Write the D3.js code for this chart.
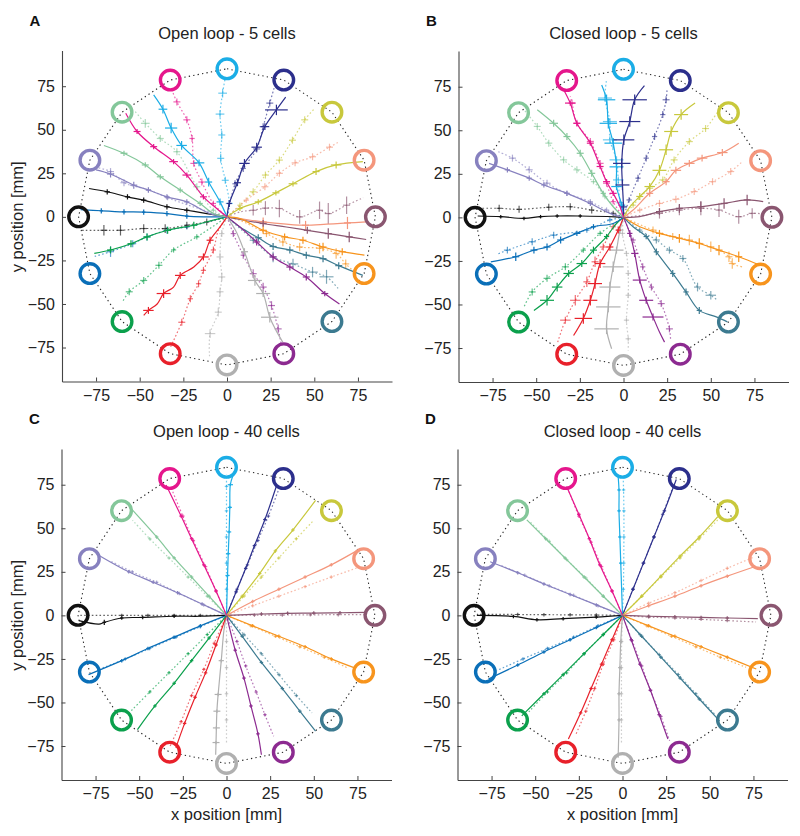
<!DOCTYPE html>
<html><head><meta charset="utf-8">
<script src="https://cdn.jsdelivr.net/npm/d3@7"></script>
<style>body{margin:0;background:#fff}svg{display:block;font-family:"Liberation Sans",Arial,sans-serif}</style>
</head><body><svg id="c" width="800" height="836"></svg>
<script>
// ---------- DATA ----------
const targetColors = ["#1badE6","#2c2f8c","#c8c83c","#f4967c","#8a5670","#f7941d","#3c7a90","#8c2a90","#b0b0b0","#e8202a","#0ba04c","#0a6fb8","#111111","#8781bf","#84c79a","#e5168c"];
const targetX = [0,32.53,60.1,78.53,85,78.53,60.1,32.53,0,-32.53,-60.1,-78.53,-85,-78.53,-60.1,-32.53];
const targetY = [85,78.53,60.1,32.53,0,-32.53,-60.1,-78.53,-85,-78.53,-60.1,-32.53,0,32.53,60.1,78.53];
const xTicks = [-75,-50,-25,0,25,50,75];
const yTicks = [-75,-50,-25,0,25,50,75];
const panelTitles = ["Open loop - 5 cells","Closed loop - 5 cells","Open loop - 40 cells","Closed loop - 40 cells"];
const panelLetters = ["A","B","C","D"];

// each trajectory: points [x, y, xErr, yErr] (starting from the centre)
const openSolid5 = [
 [[-4,8.6,2,2],[-10.5,20,2,2.5],[-16,31,3,2],[-26,41,3,2.5],[-32,51,3.5,3],[-36.7,61.8,2.5,2.5],[-42,70,0,0]],
 [[1.3,7.7,1.5,2],[6,19.6,2,2],[10,30.7,3,2.5],[17,40,3,2.5],[21.7,51.8,2.5,2],[28.3,61.4,6.5,3],[33.6,68.7,0,0]],
 [[7.4,4.8,1.5,1.5],[17.9,8.6,2,1.5],[28,13.8,2,1.5],[37.8,19,2.5,1.5],[51,26,2,2],[62.5,29.8,3,2],[77.8,31.7,0,0]],
 [[7.4,-1,0,0],[20.7,-2.9,2,2.5],[34,-4.2,0,0],[45,-4.8,2,2.5],[57,-4.2,0,0],[69,-3.5,2,3.5],[79.7,-2.9,0,0]],
 [[7.4,-1.5,0,0],[20.7,-3.8,2,2],[34,-5.8,0,0],[46,-7.7,2,2],[58,-9.6,2,3],[70,-11.5,2,3],[79.7,-13,0,0]],
 [[7.4,-1,0,0],[20.7,-7.7,2,2],[33,-11.5,2,2],[43.5,-13.4,2,2],[55,-17.3,2,2.5],[66,-20,2,2],[78.7,-22,0,0]],
 [[7.4,-5.8,0,0],[17.9,-12,2,2],[26.4,-17,2,2],[36,-19,2,2],[45.4,-22,2,2],[55,-24,2,2],[64,-28,2,2],[77.8,-33.6,0,0]],
 [[7.4,-5.8,0,0],[17,-14.4,2,2],[26.4,-23,2,2],[36,-28.8,2,2],[45.4,-34.5,2,2],[56,-44,2,1.5],[64.4,-50,0,0]],
 [[5,-8,0,0],[10,-20,2,2],[16,-36.5,4,3],[20.7,-44,4,2],[24.5,-57.6,5,3],[28,-65,0,0],[32,-72,0,0]],
 [[-4,-5.8,0,0],[-9.7,-13.4,2,2],[-13.5,-23,3,2],[-19,-28.8,0,0],[-26.8,-33.6,3,2],[-30.6,-40.3,0,0],[-36.3,-44,4,2.5],[-40,-50,0,0],[-45,-53.7,3,2],[-47.7,-56.6,0,0]],
 [[-7.8,-1.9,0,0],[-19,-4.8,2,2],[-34,-7.7,2,2],[-45.8,-11.5,2,2],[-55,-15.4,2,2],[-66.7,-19,2,2],[-76,-21,0,0]],
 [[-11.6,0,0,0],[-23,0.4,1,1.5],[-34.4,1.9,1,1.5],[-47.7,2.7,1,1.5],[-59,2.9,1,1.5],[-72,3.5,1,1.5],[-83.8,4.2,0,0]],
 [[-11.6,1.9,0,0],[-23,3.8,1.5,1.5],[-34.4,5.8,1.5,1.5],[-47.7,9.6,1.5,1.5],[-57,11.5,1.5,1.5],[-68.6,14.4,1.5,1.5],[-79,16.3,0,0]],
 [[-9.7,1.9,0,0],[-23,8.6,1.5,1.5],[-34.4,11.5,1.5,1.5],[-45,15.4,1.5,1.5],[-53.4,18.2,2,2],[-66.7,24.6,2,2],[-75,27,0,0]],
 [[-7.8,1.9,0,0],[-15.4,7.7,1.5,1.5],[-26.8,15.4,1.5,1.5],[-38.2,23,2,1.5],[-46.8,29.8,2,1.5],[-59,36.5,2,1.5],[-70.5,41,0,0]],
 [[-5.9,4.8,0,0],[-13.5,11.5,2,1.5],[-23,24,2.5,1.5],[-30.6,31.7,2.5,1.5],[-42,40.3,2,1.5],[-51.5,49,2,1.5],[-58,59.5,0,0]]
];
const openDotted5 = [
 [[1.3,7.7,2,2],[-1,21,2,2],[-3.6,33.6,2,2.5],[-3,47,2,2.5],[-4,59,2.5,2],[-2.5,71,2.5,2.5],[-1,80,0,0]],
 [[4.6,19,1.5,2],[9.3,27.8,1.5,2],[17,39,2,2],[20.7,51.8,2,2],[24.5,65.3,2,2],[27,74,0,0]],
 [[7.4,6.7,1.5,1.5],[15,14.4,2,2],[22,24,2,2],[30,32.6,2,2],[37.5,44,2,2],[44.5,55.7,2,2],[50,62,0,0]],
 [[11,9.6,1.5,1.5],[21.7,17.3,2,2],[30,25,2,2],[39,31,2,2],[49,34.5,2,2],[58.7,40,2,2],[64,43,0,0]],
 [[8,3,0,0],[15,3.8,2,3],[22,5,2,4],[30,4.8,2,5],[41.6,0,2,4],[53,3.8,2,5],[58,1.9,2,6],[68.5,6.7,2,5],[78,11,0,0]],
 [[7.4,-2,0,0],[22.6,-9.6,2,2],[32,-14.4,2,2.5],[41.6,-17.3,2,2.5],[53,-18,2,3],[62.5,-21,2,3],[68,-27,2,2.5],[72,-30.7,0,0]],
 [[15,-13.4,2,2],[26.4,-23,2,3],[37.8,-27,3,3],[49,-31.7,3,3],[57,-34.4,4,4],[64.4,-42,0,0]],
 [[3.6,-9.6,1.5,2],[9.3,-22,1.5,2],[15,-32.6,2,2.5],[20.7,-40.3,2,2.5],[25.5,-50.9,2,2.5],[29.3,-64.3,2,2.5],[31,-73,0,0]],
 [[-3,-9.6,1.5,2],[-4,-23,2,2.5],[-3,-34.5,2,2.5],[-4,-43,2,2.5],[-5,-54.7,2,2.5],[-9.7,-67,3,2.5],[-10,-80,0,0]],
 [[-5,-8,0,0],[-7.8,-19,1.5,2],[-13.5,-30.7,1.5,2],[-16.3,-38.4,1.5,2],[-21,-47,1.5,2],[-25.9,-60.5,2,2],[-32.5,-75,0,0]],
 [[-17.3,-11.5,1.5,1.5],[-30.6,-19,1.5,1.5],[-39,-27.8,2,2],[-47.7,-36.5,2,2],[-56,-43,2,2],[-60,-49,0,0]],
 [[-23,-5.8,1.5,1.5],[-34.4,-7.7,2,2],[-45.8,-11.5,2,2],[-54,-15.4,2,2],[-66.7,-20,2,3],[-77,-23,0,0]],
 [[-11.6,-2.9,1.5,2],[-23,-4.8,1.5,2],[-35.4,-6.7,2,2.5],[-47.7,-6.7,2,2.5],[-61,-7.7,2,3],[-70.5,-7.7,2,3],[-83,-7.7,0,0]],
 [[-20,6,0,0],[-34,11,1.5,1.5],[-45,15.5,1.5,1.5],[-59,19.6,2,2],[-66.7,26,2,2],[-75,28.4,0,0]],
 [[-7.8,3.8,1.5,1.5],[-17.3,17.3,2,2],[-28.7,37.4,2,2],[-38.2,45,2,2],[-46.8,53.7,2.5,2.5],[-53.4,61.4,0,0]],
 [[-7.8,7.7,1.5,1.5],[-14.4,20,2,2],[-19,30.7,2,2],[-20,45,1.5,2],[-23,55.7,2,2],[-28.7,66,2,2],[-32,74,0,0]]
];
const closedSolid5 = [
 [[-1,7,2,2],[-4,17.7,3,2],[-4,29,4,3],[-5.9,42.6,5,3],[-8.7,54,5,3],[-9.7,67.5,5,3],[-12.5,76,0,0]],
 [[0,6,2,2],[-0.6,18.6,4,3],[-1,31,5,3],[0.2,44.5,6,3],[3.6,55,6,3],[6.4,67.5,7,3],[12,75.6,0,0]],
 [[3.6,6,0,0],[9.3,12,2,2],[15,17.7,3,2],[20.6,27,4,3],[24.4,38.8,4,3],[27.3,49.3,4,3],[33,59,4,3],[41,65.6,0,0]],
 [[5.5,4.2,0,0],[15,13.8,2,2],[24.4,20.5,2,2],[30,27,3,2],[37.7,31,3,2],[45,34,3,2],[56.6,37.2,3,2],[66,42.6,0,0]],
 [[9.3,0.4,0,0],[20.6,3.3,2,2],[32,5.2,2,2.5],[44.3,6.1,2,3],[57.6,8,2,3],[70.8,10,2,3],[80,9,0,0]],
 [[9.3,-5.4,0,0],[20.6,-9.2,2,2],[32,-12,2,2.5],[43.4,-15,2,3],[54.7,-18.8,2,3],[66,-22.6,2,3],[78,-27.4,0,0]],
 [[5.5,-5.4,0,0],[13,-11,1.5,1.5],[18.8,-19.8,1.5,2],[28.2,-32.2,1.5,2],[35.8,-42.8,1.5,2],[43.4,-53.4,1.5,2],[52.8,-57,0,0],[59.5,-60,0,0]],
 [[3.6,-9.2,1.5,2],[6.4,-20.7,2,2],[9.3,-36,4,2],[13,-47.6,4,2],[16.9,-57.2,6,2],[20.6,-65.8,0,0],[23.5,-71.6,0,0]],
 [[-2,-7.3,2,2],[-4,-18.8,4,2],[-5.9,-28.4,6,3],[-7.8,-40,6,3],[-8.7,-51.4,7,3],[-9.7,-64,7,3],[-6.8,-75.4,0,0]],
 [[-3,-7.3,1.5,2],[-7.8,-17,2,2],[-13.4,-26.5,3,2.5],[-16.3,-38,4,3],[-19,-47.6,4,3],[-23,-58,5,3],[-28.6,-67.8,0,0]],
 [[-4,-3.5,0,0],[-9.7,-11,1.5,1.5],[-17.2,-18.8,2,2],[-23.9,-26.5,3,2],[-31.4,-32.2,3,2],[-38,-40,3,2.5],[-43.8,-47.6,4,3],[-51.3,-53.4,0,0]],
 [[-5.9,-3.5,0,0],[-17.2,-5.4,1.5,1.5],[-26.7,-9.2,2,1.5],[-36,-13,2,2],[-43.8,-17,2,2],[-51.3,-18.8,2,2],[-61.7,-22.6,2,2.5],[-76,-25.5,0,0]],
 [[-5,0.3,0,0],[-24.8,0.8,1,1],[-38,0.8,1,1],[-47.5,0.4,1,1],[-57,-0.6,1,1],[-70.3,0.4,1,1],[-83.5,0.8,0,0]],
 [[-7.8,2.3,0,0],[-19,8,1.5,1.5],[-32.4,13.8,1.5,1.5],[-45.6,18.6,1.5,1.5],[-54,22.5,1.5,1.5],[-66.5,27.3,1.5,1.5],[-77,31,0,0]],
 [[-5.9,6.1,0,0],[-11.6,13.8,1.5,1.5],[-18.2,25.3,2,2],[-24.8,36.8,2,2],[-32.4,46.4,2,2],[-40,54,2.5,2],[-49.4,61.8,0,0]],
 [[-2,6.1,0,0],[-5.9,13.8,2,1.5],[-9.7,20.5,2,1.5],[-13.4,29.2,2,1.5],[-19,42.6,2,1.5],[-26.7,54,2,1.5],[-30.5,65.6,3,1.5],[-34.3,73.3,0,0]]
];
const closedDotted5 = [
 [[-2,8.4,2,2],[-3,21.5,3,2],[-4,33,4,2],[-7.8,44.5,4,2],[-7.8,55,4,2],[-10.6,68.5,4,2],[-9.7,79,0,0]],
 [[3.2,10,1.5,1.5],[8.3,22.5,1.5,2],[13,34,1.5,2],[17.8,46.4,1.5,2],[22.5,59,1.5,2],[24.4,67.5,2,2],[25,74,0,0]],
 [[5.5,7,1.5,1.5],[15,16.7,2,2],[22.5,21.5,2,2],[29,33,2,2],[37.7,43.5,2,2],[47,51,2,2],[54.7,61.8,0,0]],
 [[9.3,4.2,1.5,1.5],[20.6,8,2,2],[30,10.4,2,2],[40.5,14.8,2,2],[51,20.5,2,2],[61.4,26.3,2,2],[68,32,0,0]],
 [[9,1,0,0],[20.6,2.3,2,3],[32,4.2,2,3],[44.3,5.2,2,4],[54.7,4.2,2,4],[66,0.4,2,4],[73.7,2.3,2,3],[80,2,0,0]],
 [[16.9,-7.3,2,2],[28.2,-11,2,2],[37.7,-13,2,3],[50,-16.9,2,3],[60.4,-22.6,2,3],[62.3,-26.5,2,3],[68,-28.4,0,0]],
 [[9.3,-7.3,1.5,1.5],[18.8,-13,2,2],[26.3,-18.8,2,2],[34,-23.6,2,2],[42.4,-40,2,2.5],[50,-44.7,3,2.5],[53.8,-47.6,0,0]],
 [[5.5,-13,1.5,1.5],[11,-28.4,1.5,2],[16,-40,1.5,2],[21.6,-49.5,2,2],[26.3,-64,2,2],[27,-71,0,0]],
 [[-0.6,-9.2,1.5,1.5],[1.7,-20.7,1.5,1.5],[2.7,-32.2,1.5,1.5],[2.7,-44.7,1.5,1.5],[1.7,-59,1.5,1.5],[2.7,-69.7,1.5,1.5],[2.7,-76.4,0,0]],
 [[-5.9,-5.4,1.5,1.5],[-11.6,-17,2,2],[-16.3,-25.5,2,3],[-21,-37,2,3],[-27.6,-47.6,3,3],[-33.3,-59,3,2],[-38,-72.6,0,0]],
 [[-13.4,-9.2,1.5,1.5],[-23,-18.8,1.5,1.5],[-33.3,-28.4,2,2],[-43.8,-35,2,2],[-52.3,-42.8,2,2],[-57,-51.4,0,0]],
 [[-7.8,-1.5,1.5,1.5],[-21,-7.3,1.5,1.5],[-40,-10.2,2,2],[-52.3,-14,2,2],[-66.5,-18.8,2,2],[-72,-21,0,0]],
 [[-5.9,2.3,1.5,1.5],[-18.2,4.2,1.5,2],[-30.5,6.1,1.5,2],[-42.8,5.8,1.5,2],[-59.8,4.6,1.5,2],[-71.2,5.2,1.5,2],[-83.5,5.2,0,0]],
 [[-9.7,4.2,1.5,1.5],[-19,9,1.5,1.5],[-32.4,13.8,1.5,1.5],[-43.8,19.6,2,2],[-54,27.3,2,2],[-63.6,34,2,2],[-72,37.8,0,0]],
 [[-10.6,11.9,1.5,1.5],[-17.2,20.5,1.5,1.5],[-26.7,27.3,2,2],[-34.3,33,2,2],[-42.8,42.6,2,2],[-49.4,52.2,2,2],[-57,61.8,0,0]],
 [[-5.9,9,1.5,1.5],[-9.7,19.6,2,2],[-13.4,31,2,2],[-19,43.6,2,2],[-26.7,54,2,2],[-29.5,65.6,2,2],[-30.5,69.5,0,0]]
];
const openSolid40 = [
 [[0.6,22.9,1.2,0.8],[1,35.4,1.2,0.8],[1.5,47.9,1.2,0.8],[1.9,62,1.2,0.8],[2.2,75,1.5,0.8],[3.8,80.6,0,0]],
 [[5.5,13.5,1,1],[11,27,1,1],[16,40,1,1],[22,55,1,1],[28.5,74,0,0]],
 [[9,11,1,1],[19,24,1,1],[28,37,1,1],[38,49,1,1],[51,66,0,0]],
 [[15,8,1,1],[30,15,1,1],[45,22,1,1],[60,29,1,1],[75,37.3,0,0]],
 [[20,0.8,1,1],[35,1.2,1,1],[50,1.3,1,1],[65,1.5,1,1],[80,1.7,0,0]],
 [[15,-6,1,1],[30,-12,1,1],[45,-18,1,1],[60,-25,1,1],[73,-30,0,0]],
 [[9,-12,1,1],[20,-27,1,1],[32,-42,1,1],[42,-55,1,1],[51,-66.5,0,0]],
 [[5,-20,1,1],[10,-36,1,1],[14,-52,1,1],[18,-68,1,1],[20,-80,0,0]],
 [[-1.5,-8.8,0,0],[-3,-26,1.5,1],[-4.8,-45.4,2,1],[-5.5,-55,2,1],[-5.8,-64.6,2,1],[-6,-73,2,1],[-6.2,-80,0,0]],
 [[-6,-17,1,1],[-12,-33,1,1],[-18,-47,1,1],[-24,-62,1,1],[-29,-76,0,0]],
 [[-10,-13,1,1],[-20,-26,1,1],[-30,-39,1,1],[-41,-52,1,1],[-51,-65.6,0,0]],
 [[-15,-6,1,1],[-30,-12.5,1,1],[-45,-19,1,1],[-60,-26,1,1],[-79,-34,0,0]],
 [[-15,-0.5,0,0],[-30,-0.5,1,1],[-48,-1.2,1,1],[-60,-1.5,1,1],[-70,-4,1,1.5],[-73,-5,0,0],[-84.6,-3,0,0]],
 [[-14,6.5,1,1],[-28,13,1,1],[-42,19,1,1],[-56,25,1,1],[-73,34.4,0,0]],
 [[-10,11,1,1],[-20,22,1,1],[-30,33,1,1],[-40,45,1,1],[-53.8,60.4,0,0]],
 [[-6,14,1,1],[-13,29,1,1],[-20,44,1,1],[-26,57,1,1],[-34.6,74.8,0,0]]
];
const openDotted40 = [
 [[0,15,1,0.8],[0,30,1,0.8],[0,45,1,0.8],[0,60,1,0.8],[0,74,1,0.8],[0,81,0,0]],
 [[6,15,1,1],[12,29,1,1],[18,43,1,1],[24,57,1,1],[29.8,72,0,0]],
 [[10,11,1,1],[20,22,1,1],[30,33,1,1],[40,44,1,1],[50,54.6,0,0]],
 [[15,5.5,1,1],[30,11,1,1],[45,16.5,1,1],[60,22,1,1],[76,27.7,0,0]],
 [[16,0.1,1,1],[32,0.2,1,1],[48,0.3,1,1],[64,0.4,1,1],[79,0.4,0,0]],
 [[14,-6,1,1],[28,-12,1,1],[42,-18,1,1],[56,-24,1,1],[69,-30,0,0]],
 [[10,-11,1,1],[20,-22,1,1],[30,-34,1,1],[40,-46,1,1],[49,-56,0,0]],
 [[6,-15,1,1],[11,-29,1,1],[17,-44,1,1],[22,-57,1,1],[27,-69.4,0,0]],
 [[0,-15,1,1],[0,-30,1,1],[0,-45,1,1],[0,-60,1,1],[0,-74,0,0]],
 [[-7,-16,1,1],[-13,-31,1,1],[-20,-46,1,1],[-26,-61,1,1],[-32.7,-76,0,0]],
 [[-11,-11,1,1],[-22,-22,1,1],[-33,-33,1,1],[-44,-44,1,1],[-54.8,-55,0,0]],
 [[-15,-6.5,1,1],[-29,-12.5,1,1],[-44,-19,1,1],[-58,-25,1,1],[-73,-31,0,0]],
 [[-15,0,1,1],[-30,0,1,1],[-45,0,1,1],[-60,0,1,1],[-84.6,0,0,0]],
 [[-13,6,1,1],[-27,12.5,1,1],[-40,19,1,1],[-54,25,1,1],[-67,31.5,0,0]],
 [[-11,11,1,1],[-22,22,1,1],[-33,33,1,1],[-44,44,1,1],[-53.8,54.6,0,0]],
 [[-6,14,1,1],[-12,28,1,1],[-19,43,1,1],[-25,57,1,1],[-30.8,71,0,0]]
];
const closedSolid40 = [
 [[-0.5,15,0,0],[-1,30,1,0.8],[-1.5,45,1,0.8],[-2,60,1,0.8],[-2,72,1,0.8],[-2.5,79.8,0,0]],
 [[6,15,1,1],[12,30,1,1],[18,45,1,1],[24,60,1,1],[30.8,78,0,0]],
 [[11,11,1,1],[22,22.5,1,1],[33,34,1,1],[44,45,1,1],[54.6,56.7,0,0]],
 [[15,5.5,1,1],[30,11,1,1],[45,17,1,1],[60,22.5,1,1],[75.6,27.9,0,0]],
 [[15,-0.5,1,1],[30,-0.8,1,1],[45,-1.2,1,1],[60,-1.5,1,1],[77.5,-1.9,0,0]],
 [[15,-6,1,1],[30,-12,1,1],[45,-18,1,1],[60,-24,1,1],[76.6,-30.8,0,0]],
 [[11,-12,1,1],[22,-24,1,1],[33,-36,1,1],[44,-48,1,1],[55.6,-60.6,0,0]],
 [[5,-14,1,1],[10,-28,1,1],[16,-43,1,1],[21,-57,1,1],[26,-71,0,0]],
 [[-1,-15,1,1],[-1.5,-30,1,1],[-2,-45,1,1],[-2,-60,1,1],[-2.5,-81.7,0,0]],
 [[-6,-14,1,1],[-12,-28,1,1],[-18,-42,1,1],[-24,-56,1,1],[-31,-71,0,0]],
 [[-11,-11,1,1],[-22,-22,1,1],[-34,-34,1,1],[-45,-45,1,1],[-57.7,-57.7,0,0]],
 [[-15,-7,1,1],[-30,-14,1,1],[-45,-21,1,1],[-60,-28.5,1,1],[-76.8,-36.5,0,0]],
 [[-15,-1,1,1],[-34,-1.9,1,1],[-49,-2.5,1,1],[-62.5,-0.6,1,1],[-83.4,0,0,0]],
 [[-15,6,1,1],[-30,12,1,1],[-45,18,1,1],[-60,24.5,1,1],[-75.8,30.8,0,0]],
 [[-11,11,1,1],[-22,22,1,1],[-33,33,1,1],[-44,44,1,1],[-54.8,54.8,0,0]],
 [[-6,14,1,1],[-13,29,1,1],[-19,44,1,1],[-25,58,1,1],[-32,74,0,0]]
];
const closedDotted40 = [
 [[0.5,15,1,0.8],[0.7,30,1,0.8],[0.8,45,1,0.8],[0.8,60,1,0.8],[0.6,72,1,0.8],[0.4,80,0,0]],
 [[6,15,1,1],[12,30,1,1],[18,45,1,1],[23,58,1,1],[29,74,0,0]],
 [[11,11,1,1],[22,22,1,1],[33,33,1,1],[44,44,1,1],[54.6,54.8,0,0]],
 [[15,7,1,1],[30,13,1,1],[45,20,1,1],[60,27,1,1],[75.6,33.6,0,0]],
 [[15,-1,1,1],[30,-1.5,1,1],[45,-2.3,1,1],[60,-3,1,1],[76.5,-3.8,0,0]],
 [[14,-6,1,1],[28,-12,1,1],[42,-18,1,1],[56,-24,1,1],[70.8,-29.8,0,0]],
 [[10,-11,1,1],[21,-22.5,1,1],[32,-34,1,1],[42,-45,1,1],[52.8,-56.7,0,0]],
 [[5.5,-14.5,1,1],[11,-29,1,1],[16,-43,1,1],[22,-58,1,1],[27,-72,0,0]],
 [[-0.5,-15,1,1],[-0.6,-30,1,1],[-0.6,-45,1,1],[-0.6,-60,1,1],[-0.6,-74,0,0]],
 [[-5,-14,1,1],[-11,-28,1,1],[-16,-42,1,1],[-21,-55,1,1],[-27,-69,0,0]],
 [[-11,-11,1,1],[-22,-22,1,1],[-32,-33,1,1],[-43,-44,1,1],[-54,-55.8,0,0]],
 [[-14,-6,1,1],[-28,-12.5,1,1],[-43,-19,1,1],[-57,-25,1,1],[-72,-31.7,0,0]],
 [[-15,0.2,1,1],[-30,0.3,1,1],[-45,0.4,1,1],[-60,0.5,1,1],[-83.4,0.6,0,0]],
 [[-14,5.5,1,1],[-28,11.5,1,1],[-42,17,1,1],[-56,23,1,1],[-70,28.8,0,0]],
 [[-11,11,1,1],[-21,21.5,1,1],[-32,32,1,1],[-42,42.5,1,1],[-53,53.8,0,0]],
 [[-6,14,1,1],[-12,28,1,1],[-18,42,1,1],[-25,57,1,1],[-31,72,0,0]]
];

// ---------- LAYOUT ----------
const panels = [
 {x0:62,   y0:50.5, solid:openSolid5,   dotted:openDotted5,   ylab:true,  xlab:false},
 {x0:458.5,y0:51,   solid:closedSolid5, dotted:closedDotted5, ylab:false, xlab:false},
 {x0:61.5, y0:449,  solid:openSolid40,  dotted:openDotted40,  ylab:true,  xlab:true},
 {x0:457.5,y0:449,  solid:closedSolid40,dotted:closedDotted40,ylab:false, xlab:true}
];
const W = 330, H = 331;
const svg = d3.select("#c");

panels.forEach((p, pi) => {
  const g = svg.append("g").attr("transform", `translate(${p.x0},${p.y0})`);
  const x = d3.scaleLinear().domain([-94.5, 94.5]).range([0, W]);
  const y = d3.scaleLinear().domain([-94.5, 95.5]).range([H, 0]);

  // axes
  const ax = g.append("g").attr("transform", `translate(0,${H})`)
    .call(d3.axisBottom(x).tickValues(xTicks).tickSizeInner(-4).tickSizeOuter(0).tickPadding(8));
  const ay = g.append("g")
    .call(d3.axisLeft(y).tickValues(yTicks).tickSizeInner(-4).tickSizeOuter(0).tickPadding(7));
  [ax, ay].forEach(a => {
    a.selectAll("path").attr("stroke", "#444").attr("stroke-width", 1.1);
    a.selectAll("line").attr("stroke", "#444");
    a.selectAll("text").attr("font-size", 16).attr("fill", "#222")
      .attr("font-family", "'Liberation Sans', Arial, sans-serif");
  });

  // titles / labels
  svg.append("text").attr("x", p.x0 + x(0)).attr("y", p.y0 - 12)
    .attr("text-anchor", "middle").attr("font-size", 16.5).attr("fill", "#222")
    .text(panelTitles[pi]);
  svg.append("text").attr("x", p.x0 - 27).attr("y", p.y0 - 25)
    .attr("text-anchor", "middle").attr("font-size", 15).attr("font-weight", "bold").attr("fill", "#111")
    .text(panelLetters[pi]);
  if (p.ylab) {
    svg.append("text").attr("transform", `translate(23,${p.y0 + y(0)}) rotate(-90)`)
      .attr("text-anchor", "middle").attr("font-size", 16.5).attr("fill", "#222")
      .text("y position [mm]");
  }
  if (p.xlab) {
    svg.append("text").attr("x", p.x0 + x(0)).attr("y", p.y0 + H + 40)
      .attr("text-anchor", "middle").attr("font-size", 16.5).attr("fill", "#222")
      .text("x position [mm]");
  }

  // dotted polygon through targets
  const poly = targetX.map((tx, i) => [tx, targetY[i]]);
  g.append("path").datum(poly)
    .attr("d", d3.line().x(d => x(d[0])).y(d => y(d[1])).curve(d3.curveLinearClosed))
    .attr("fill", "none").attr("stroke", "#222").attr("stroke-width", 1.1)
    .attr("stroke-dasharray", "1.3,3.2");

  const line = d3.line().x(d => x(d[0])).y(d => y(d[1])).curve(d3.curveCatmullRom.alpha(0.5));

  function drawSet(set, dotted) {
    set.forEach((traj, i) => {
      const pts = [[0, 0, 0, 0]].concat(traj);
      const col = targetColors[i];
      const op = dotted ? 0.65 : 1;
      g.append("path").datum(pts).attr("d", line)
        .attr("fill", "none").attr("stroke", col).attr("stroke-width", 1.2)
        .attr("stroke-opacity", op)
        .attr("stroke-dasharray", dotted ? "1.6,2.2" : null);
      const cg = g.append("g").attr("stroke", col).attr("stroke-width", 1.2).attr("stroke-opacity", op);
      pts.filter(d => d[2] > 0 || d[3] > 0).forEach(d => {
        cg.append("line").attr("x1", x(d[0] - d[2])).attr("x2", x(d[0] + d[2]))
          .attr("y1", y(d[1])).attr("y2", y(d[1]));
        cg.append("line").attr("x1", x(d[0])).attr("x2", x(d[0]))
          .attr("y1", y(d[1] - d[3])).attr("y2", y(d[1] + d[3]));
      });
    });
  }
  drawSet(p.dotted, true);
  drawSet(p.solid, false);

  // target rings
  g.selectAll("circle.t").data(targetX).enter().append("circle")
    .attr("cx", d => x(d)).attr("cy", (d, i) => y(targetY[i])).attr("r", 9.8)
    .attr("fill", "none").attr("stroke", (d, i) => targetColors[i]).attr("stroke-width", 3.4);
});
</script></body></html>
